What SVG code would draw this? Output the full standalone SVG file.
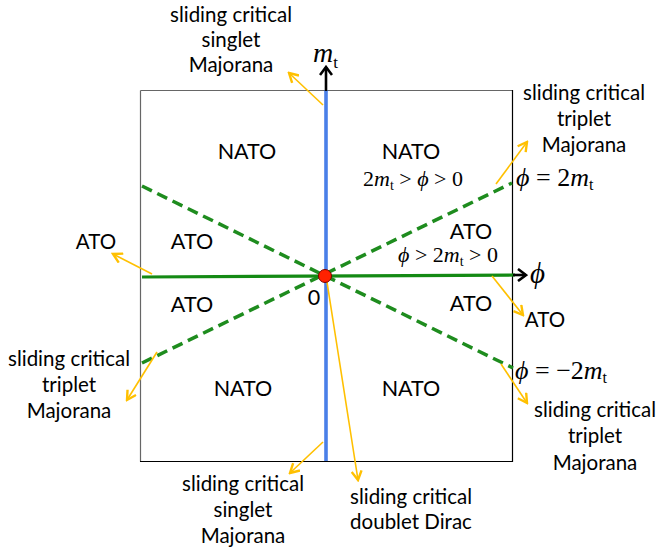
<svg xmlns="http://www.w3.org/2000/svg" width="660" height="550" viewBox="0 0 660 550">
<style>
.lbl{font-family:Lato,"Open Sans",sans-serif;font-size:20.5px;fill:#000;text-anchor:middle}
.reg{font-family:Lato,"Open Sans",sans-serif;font-size:21.5px;fill:#000;text-anchor:middle}
.math{font-family:"Liberation Serif","DejaVu Serif",serif;fill:#000}
.it{font-style:italic}
.yl{stroke:#FFC000;stroke-width:1.6;fill:none;marker-end:url(#ya)}
.dash{stroke:#1E8C1E;stroke-width:3.5;stroke-dasharray:11 6;fill:none}
</style>
<defs>
<marker id="ya" viewBox="0 0 12 12" refX="10" refY="6" markerWidth="12" markerHeight="12" markerUnits="userSpaceOnUse" orient="auto">
<path d="M1,1 L10,6 L1,11" fill="none" stroke="#FFC000" stroke-width="2.4"/>
</marker>
<marker id="ka" viewBox="0 0 14 14" refX="12" refY="7" markerWidth="14" markerHeight="14" markerUnits="userSpaceOnUse" orient="auto">
<path d="M4,1 L12,7 L4,13" fill="none" stroke="#000" stroke-width="2.6"/>
</marker>
</defs>
<rect width="660" height="550" fill="#fff"/>
<g id="frame">
<line x1="140.5" y1="90.5" x2="512.5" y2="90.5" stroke="#666" stroke-width="1.2"/>
<line x1="140.5" y1="90.5" x2="140.5" y2="461.5" stroke="#666" stroke-width="1.2"/>
<line x1="512.5" y1="90" x2="512.5" y2="462" stroke="#000" stroke-width="1.2"/>
<line x1="140" y1="461.5" x2="513" y2="461.5" stroke="#000" stroke-width="1.2"/>
</g>
<g id="connectors">
<line class="dash" x1="142" y1="186" x2="513" y2="368"/>
<line class="dash" x1="142" y1="363" x2="512" y2="183"/>
<line x1="142" y1="277" x2="515" y2="275" stroke="#148A14" stroke-width="3.2"/>
<line x1="513" y1="275" x2="526" y2="275" stroke="#000" stroke-width="2.6" marker-end="url(#ka)"/>
<line x1="326" y1="90" x2="326" y2="461" stroke="#4A7FE8" stroke-width="3.6"/>
<line x1="326" y1="91" x2="326" y2="67" stroke="#000" stroke-width="2.6" marker-end="url(#ka)"/>
<line class="yl" x1="323" y1="105" x2="289" y2="73"/>
<line class="yl" x1="496" y1="184" x2="527" y2="142"/>
<line class="yl" x1="152" y1="274" x2="113" y2="254"/>
<line class="yl" x1="157" y1="352" x2="127" y2="400"/>
<line class="yl" x1="492" y1="276" x2="523" y2="315"/>
<line class="yl" x1="501" y1="364" x2="527" y2="403"/>
<line class="yl" x1="323" y1="442" x2="290" y2="473"/>
<line class="yl" x1="327" y1="282" x2="358" y2="480"/>
</g>
<g id="origin">
<circle cx="325" cy="276" r="6.5" fill="#FF2200" stroke="#7A0000" stroke-width="1"/>
<text class="reg" x="314" y="305" font-size="23">0</text>
</g>
<g id="axis-mt">
<text class="math" x="313" y="62" font-size="28"><tspan class="it">m</tspan><tspan font-size="17" dy="6">t</tspan></text>
</g>
<g id="axis-phi">
<text class="math it" x="530" y="283" font-size="29">ϕ</text>
</g>
<g id="label-top-singlet">
<text class="lbl" x="231" y="22">sliding critical</text>
<text class="lbl" x="231" y="47">singlet</text>
<text class="lbl" x="231" y="72">Majorana</text>
</g>
<g id="label-top-triplet">
<text class="lbl" x="584" y="100">sliding critical</text>
<text class="lbl" x="584" y="126">triplet</text>
<text class="lbl" x="584" y="152">Majorana</text>
</g>
<g id="label-left-ato">
<text class="lbl" x="96" y="249">ATO</text>
</g>
<g id="label-left-triplet">
<text class="lbl" x="69" y="366">sliding critical</text>
<text class="lbl" x="69" y="392">triplet</text>
<text class="lbl" x="69" y="418">Majorana</text>
</g>
<g id="label-right-ato">
<text class="lbl" x="545" y="327">ATO</text>
</g>
<g id="label-right-triplet">
<text class="lbl" x="595" y="417">sliding critical</text>
<text class="lbl" x="595" y="443">triplet</text>
<text class="lbl" x="595" y="470">Majorana</text>
</g>
<g id="label-bottom-singlet">
<text class="lbl" x="243" y="491">sliding critical</text>
<text class="lbl" x="243" y="517">singlet</text>
<text class="lbl" x="243" y="543">Majorana</text>
</g>
<g id="label-bottom-doublet">
<text class="lbl" x="411" y="504">sliding critical</text>
<text class="lbl" x="411" y="529">doublet Dirac</text>
</g>
<g id="region-nato-tl"><text class="reg" x="247" y="159">NATO</text></g>
<g id="region-nato-tr">
<text class="reg" x="411" y="159">NATO</text>
<text class="math" x="363" y="186" font-size="22">2<tspan class="it">m</tspan><tspan font-size="14" dy="4">t</tspan><tspan dy="-4"> &gt; </tspan><tspan class="it">ϕ</tspan> &gt; 0</text>
</g>
<g id="region-ato-ul"><text class="reg" x="192" y="249">ATO</text></g>
<g id="region-ato-ll"><text class="reg" x="192" y="312">ATO</text></g>
<g id="region-ato-ur">
<text class="reg" x="471" y="239">ATO</text>
<text class="math" x="398" y="262" font-size="22"><tspan class="it">ϕ</tspan> &gt; 2<tspan class="it">m</tspan><tspan font-size="14" dy="4">t</tspan><tspan dy="-4"> &gt; 0</tspan></text>
</g>
<g id="region-ato-lr"><text class="reg" x="471" y="311">ATO</text></g>
<g id="region-nato-bl"><text class="reg" x="243" y="396">NATO</text></g>
<g id="region-nato-br"><text class="reg" x="411" y="396">NATO</text></g>
<g id="line-label-pos">
<text class="math" x="516" y="186" font-size="26"><tspan class="it">ϕ</tspan> = 2<tspan class="it">m</tspan><tspan font-size="16" dy="4">t</tspan></text>
</g>
<g id="line-label-neg">
<text class="math" x="515" y="379" font-size="26"><tspan class="it">ϕ</tspan> = −2<tspan class="it">m</tspan><tspan font-size="16" dy="4">t</tspan></text>
</g>
</svg>
